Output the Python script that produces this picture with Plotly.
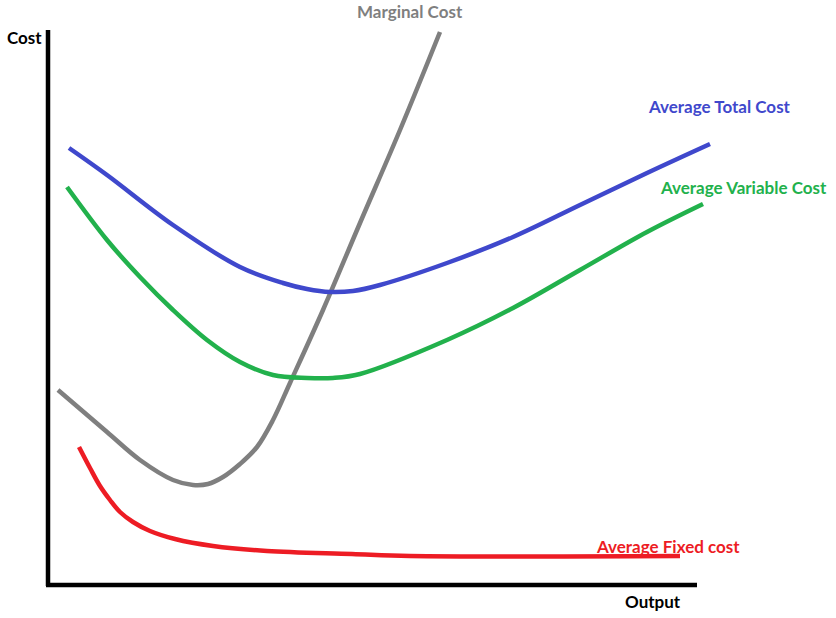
import plotly.graph_objects as go

# Cost curves (output vs cost, arbitrary units)
atc_x = [21, 59, 125, 192, 235, 259, 282, 305, 332, 399, 465, 532, 599, 662]
atc_y = [437, 410, 360, 318, 302, 296, 293, 294, 300, 322, 348, 380, 412, 441]

avc_x = [19, 59, 92, 125, 159, 192, 225, 259, 285, 312, 399, 465, 532, 599, 655]
avc_y = [398, 345, 308, 275, 245, 223, 210, 207, 207, 211, 245, 277, 315, 353, 381]

mc_x = [10, 59, 92, 125, 145, 160, 175, 192, 209, 225, 242, 275, 312, 352, 392]
mc_y = [195, 153, 125, 105, 100, 101, 108, 121, 138, 165, 202, 275, 362, 455, 553]

afc_x = [31, 42, 52, 62, 72, 85, 102, 127, 165, 219, 304, 362, 632]
afc_y = [138, 117, 99, 85, 73, 63, 54, 46, 39, 34, 31, 29, 29]

BLUE = "#3F48CC"
GREEN = "#22B14C"
GRAY = "#7F7F7F"
RED = "#ED1C24"
FONT = "Lato"

fig = go.Figure()

for xs, ys, col in [(mc_x, mc_y, GRAY), (atc_x, atc_y, BLUE),
                    (avc_x, avc_y, GREEN), (afc_x, afc_y, RED)]:
    fig.add_trace(go.Scatter(x=xs, y=ys, mode="lines",
                             line=dict(color=col, width=4.5, shape="spline", smoothing=1.0),
                             hoverinfo="skip", showlegend=False))

# hand-drawn axes
fig.add_shape(type="line", x0=0, y0=-1, x1=0, y1=555, line=dict(color="black", width=4.5))
fig.add_shape(type="line", x0=-2, y0=0, x1=649, y1=0, line=dict(color="black", width=4.5))

labels = [
    ("Marginal Cost", 307, 574, GRAY),
    ("Average Total Cost", 598, 479, BLUE),
    ("Average Variable Cost", 610, 398, GREEN),
    ("Average Fixed cost", 546, 39, RED),
    ("Cost", -43, 548, "black"),
    ("Output", 575, -16, "black"),
]
for txt, x, y, col in labels:
    fig.add_annotation(x=x, y=y, text="<b>" + txt + "</b>", showarrow=False,
                       xanchor="left", yanchor="middle",
                       font=dict(family=FONT, size=17, color=col))

fig.update_xaxes(range=[-48, 788], visible=False, fixedrange=True)
fig.update_yaxes(range=[-33, 585], visible=False, fixedrange=True)
fig.update_layout(width=836, height=618,
                  margin=dict(l=0, r=0, t=0, b=0),
                  plot_bgcolor="white", paper_bgcolor="white")

fig.write_html("out.html", config={"displayModeBar": False},
               post_script="document.body.style.margin='0';")
